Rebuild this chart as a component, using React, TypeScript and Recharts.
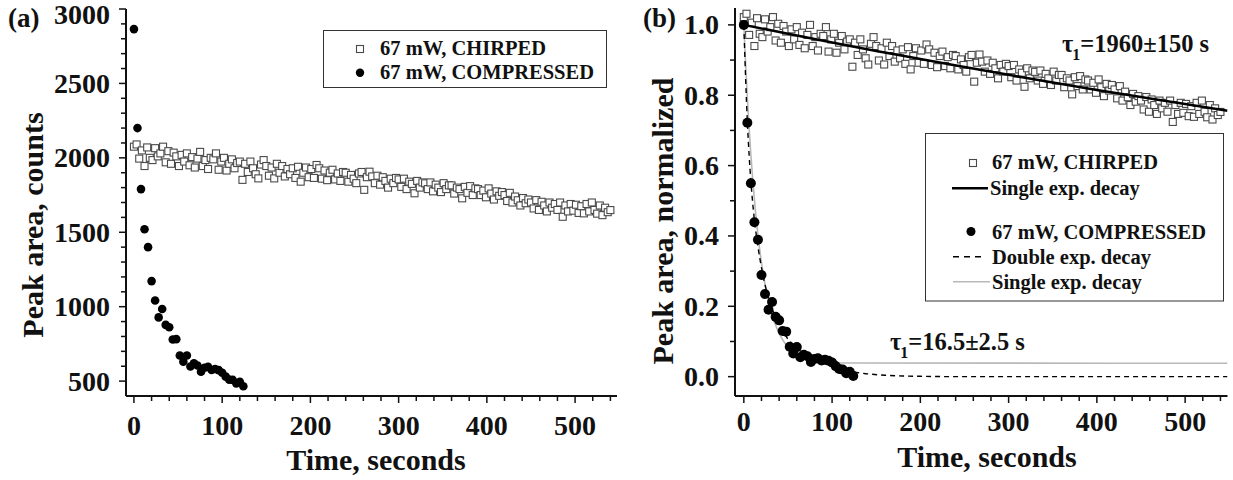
import React from 'react';
import { ComposedChart, Scatter, Line, XAxis, YAxis } from 'recharts';

const SERIF = '"Liberation Serif", "Times New Roman", Times, serif';
const INK = '#111';

// ---------- Panel (a): raw peak areas ----------
const chirpedTime = [
  0, 3, 6, 9, 12, 15, 18, 21, 24, 27,
  30, 33, 36, 39, 42, 45, 48, 51, 54, 57,
  60, 63, 66, 69, 72, 75, 78, 81, 84, 87,
  90, 93, 96, 99, 102, 105, 108, 111, 114, 117,
  120, 123, 126, 129, 132, 135, 138, 141, 144, 147,
  150, 153, 156, 159, 162, 165, 168, 171, 174, 177,
  180, 183, 186, 189, 192, 195, 198, 201, 204, 207,
  210, 213, 216, 219, 222, 225, 228, 231, 234, 237,
  240, 243, 246, 249, 252, 255, 258, 261, 264, 267,
  270, 273, 276, 279, 282, 285, 288, 291, 294, 297,
  300, 303, 306, 309, 312, 315, 318, 321, 324, 327,
  330, 333, 336, 339, 342, 345, 348, 351, 354, 357,
  360, 363, 366, 369, 372, 375, 378, 381, 384, 387,
  390, 393, 396, 399, 402, 405, 408, 411, 414, 417,
  420, 423, 426, 429, 432, 435, 438, 441, 444, 447,
  450, 453, 456, 459, 462, 465, 468, 471, 474, 477,
  480, 483, 486, 489, 492, 495, 498, 501, 504, 507,
  510, 513, 516, 519, 522, 525, 528, 531, 534, 537, 540,
];
const chirpedCounts = [
  2075, 2090, 1995, 2050, 1945, 2070, 2000, 1985, 2065, 2010,
  2030, 2075, 1970, 2045, 1960, 2035, 2010, 1945, 2020, 1975,
  2030, 1950, 2005, 1935, 1995, 2040, 1945, 1985, 1925, 2000,
  1990, 2030, 1920, 1975, 2000, 1915, 1960, 1990, 1930, 1965,
  1975, 1852, 1960, 1905, 1975, 1930, 1890, 1862, 1955, 1985,
  1945, 1880, 1935, 1862, 1960, 1900, 1945, 1875, 1925, 1890,
  1930, 1865, 1940, 1840, 1900, 1935, 1870, 1925, 1865, 1952,
  1930, 1860, 1915, 1850, 1900, 1920, 1855, 1895, 1845, 1905,
  1900, 1840, 1885, 1860, 1830, 1895, 1905, 1785, 1870, 1907,
  1875, 1830, 1880, 1820, 1870, 1845, 1800, 1860, 1830, 1865,
  1855, 1805, 1860, 1790, 1840, 1825, 1762, 1845, 1800, 1835,
  1829, 1790, 1835, 1775, 1820, 1800, 1770, 1830, 1790, 1815,
  1815, 1760, 1800, 1790, 1728, 1805, 1765, 1810, 1750, 1795,
  1790, 1750, 1780, 1735, 1795, 1760, 1720, 1775, 1745, 1770,
  1750, 1710, 1765, 1700, 1740, 1715, 1680, 1730, 1695, 1720,
  1700, 1660, 1716, 1650, 1705, 1680, 1640, 1700, 1665, 1690,
  1650, 1700, 1604, 1680, 1640, 1690, 1645, 1685, 1630, 1675,
  1627, 1690, 1640, 1700, 1650, 1625, 1680, 1615, 1665, 1635, 1649,
];
const compressedTime = [
  0, 4, 8, 12, 16, 20, 24, 28, 32, 36, 40, 44, 48, 52, 56, 60,
  64, 68, 72, 76, 80, 84, 88, 92, 96, 100, 104, 108, 112, 116, 120, 124,
];
const compressedCounts = [
  2865, 2200, 1790, 1520, 1400, 1172, 1042, 928, 985, 878, 862, 780, 782, 672, 630, 672,
  598, 620, 605, 563, 590, 596, 575, 581, 574, 556, 530, 510, 508, 485, 495, 466,
];

// ---------- Panel (b): normalized peak areas ----------
// normalization used in the figure: (area - baseline) / (initial - baseline)
const NORM_BASELINE = 460;
const NORM_SPAN = 1580;
const compressedNorm = [
  1.0, 0.722, 0.55, 0.439, 0.389, 0.289, 0.235, 0.19, 0.212, 0.17, 0.16, 0.13, 0.128, 0.085, 0.066, 0.084,
  0.055, 0.062, 0.058, 0.042, 0.05, 0.052, 0.046, 0.048, 0.045, 0.04, 0.03, 0.022, 0.02, 0.01, 0.014, 0.002,
];
const chirpedFitTime = [0, 50, 100, 150, 200, 250, 300, 350, 400, 450, 500, 548];
const chirpedFitValue = [1.0, 0.975, 0.95, 0.926, 0.903, 0.88, 0.858, 0.836, 0.815, 0.795, 0.775, 0.756];
const doubleFitTime = [
  0, 2, 4, 6, 8, 10, 12, 14, 16, 18, 20, 23, 26, 30, 35, 40, 45, 50, 55, 60,
  70, 80, 90, 100, 110, 120, 130, 140, 160, 180, 200, 250, 300, 400, 548,
];
const doubleFitValue = [
  1.0, 0.85, 0.725, 0.63, 0.555, 0.495, 0.445, 0.405, 0.37, 0.338, 0.31, 0.272, 0.242, 0.208, 0.174, 0.147, 0.125, 0.107, 0.093, 0.081,
  0.063, 0.049, 0.038, 0.029, 0.022, 0.016, 0.011, 0.008, 0.004, 0.002, 0.001, 0, 0, 0, 0,
];
const singleFitTime = [0, 2, 4, 6, 8, 10, 13, 16, 20, 25, 30, 35, 40, 45, 50, 55, 60, 70, 80, 90, 100, 120, 548];
const singleFitValue = [
  1.0, 0.89, 0.793, 0.707, 0.63, 0.563, 0.475, 0.403, 0.324, 0.249, 0.194, 0.153, 0.123, 0.101, 0.0845, 0.0723,
  0.0634, 0.0519, 0.0456, 0.0421, 0.0403, 0.0387, 0.038,
];

// ---------- ticks ----------
const timeTicks = [0, 20, 40, 60, 80, 100, 120, 140, 160, 180, 200, 220, 240, 260, 280, 300, 320, 340, 360, 380, 400, 420, 440, 460, 480, 500, 520, 540];
const countTicks = [500, 600, 700, 800, 900, 1000, 1100, 1200, 1300, 1400, 1500, 1600, 1700, 1800, 1900, 2000, 2100, 2200, 2300, 2400, 2500, 2600, 2700, 2800, 2900, 3000];
const normTicks = [0, 0.1, 0.2, 0.3, 0.4, 0.5, 0.6, 0.7, 0.8, 0.9, 1.0];

// ---------- rows ----------
const chirpedA = chirpedTime.map((t, i) => ({ t, v: chirpedCounts[i] }));
const compressedA = compressedTime.map((t, i) => ({ t, v: compressedCounts[i] }));
const chirpedB = chirpedTime.map((t, i) => ({ t, v: (chirpedCounts[i] - NORM_BASELINE) / NORM_SPAN }));
const compressedB = compressedTime.map((t, i) => ({ t, v: compressedNorm[i] }));
const chirpedFitB = chirpedFitTime.map((t, i) => ({ t, v: chirpedFitValue[i] }));
const doubleFitB = doubleFitTime.map((t, i) => ({ t, v: doubleFitValue[i] }));
const singleFitB = singleFitTime.map((t, i) => ({ t, v: singleFitValue[i] }));

// ---------- tick renderers ----------
const isMult = (v: number, m: number) => Math.abs(v / m - Math.round(v / m)) < 1e-6;

const bottomTick = (labelOffset: number) => (p: any) => {
  const { x, y, payload } = p;
  const v = payload.value;
  const major = isMult(v, 100);
  return (
    <g>
      <line x1={x} x2={x} y1={y} y2={y + (major ? 7 : 5)} stroke={INK} strokeWidth={1.5} />
      {major && (
        <text x={x} y={y + labelOffset} textAnchor="middle" fontFamily={SERIF} fontWeight="bold" fontSize={28} fill={INK}>
          {v}
        </text>
      )}
    </g>
  );
};

const topTick = (p: any) => {
  const { x, y, payload } = p;
  const major = isMult(payload.value, 100);
  return <line x1={x} x2={x} y1={y} y2={y + (major ? 7 : 5)} stroke={INK} strokeWidth={1.5} />;
};

const leftTick = (majorStep: number, fmt: (v: number) => string) => (p: any) => {
  const { x, y, payload } = p;
  const v = payload.value;
  const major = isMult(v, majorStep);
  return (
    <g>
      <line x1={x} x2={x - (major ? 7 : 5)} y1={y} y2={y} stroke={INK} strokeWidth={1.5} />
      {major && (
        <text x={x - 16} y={Math.max(y + 9.5, 23.5)} textAnchor="end" fontFamily={SERIF} fontWeight="bold" fontSize={28} fill={INK}>
          {fmt(v)}
        </text>
      )}
    </g>
  );
};

const rightTick = (majorStep: number) => (p: any) => {
  const { x, y, payload } = p;
  const major = isMult(payload.value, majorStep);
  return <line x1={x} x2={x - (major ? 7 : 5)} y1={y} y2={y} stroke={INK} strokeWidth={1.5} />;
};

// ---------- marks ----------
const SquareMark = (p: any) => (
  <rect x={p.cx - 3.5} y={p.cy - 3.5} width={7} height={7} fill="#fff" stroke="#4a4a4a" strokeWidth={1.1} />
);
const DotA = (p: any) => <circle cx={p.cx} cy={p.cy} r={4.3} fill="#000" />;
const DotB = (p: any) => <circle cx={p.cx} cy={p.cy} r={5} fill="#000" />;

const axisLine = { stroke: INK, strokeWidth: 2 };

const X_DOMAIN_A: [number, number] = [-9, 547.5];
const Y_DOMAIN_A: [number, number] = [400, 3000];
const X_DOMAIN_B: [number, number] = [-10, 548];
const Y_DOMAIN_B: [number, number] = [-0.055, 1.048];

function PanelA() {
  return (
    <ComposedChart width={620} height={480} margin={{ top: 9, right: 3, bottom: 0, left: 0 }}>
      <XAxis xAxisId={0} dataKey="t" type="number" domain={X_DOMAIN_A} allowDataOverflow ticks={timeTicks} interval={0}
        height={84} tickSize={0} tickMargin={0} tickLine={false} axisLine={axisLine} tick={bottomTick(39)} />
      <XAxis xAxisId="top" orientation="top" type="number" domain={X_DOMAIN_A} allowDataOverflow ticks={timeTicks} interval={0}
        height={0} tickSize={0} tickMargin={0} tickLine={false} axisLine={axisLine} tick={topTick} />
      <YAxis yAxisId={0} dataKey="v" type="number" domain={Y_DOMAIN_A} allowDataOverflow ticks={countTicks} interval={0}
        width={126} tickSize={0} tickMargin={0} tickLine={false} axisLine={axisLine} tick={leftTick(500, (v) => String(v))} />
      <YAxis yAxisId="right" orientation="right" type="number" domain={Y_DOMAIN_A} allowDataOverflow ticks={countTicks} interval={0}
        width={0} tickSize={0} tickMargin={0} tickLine={false} axisLine={axisLine} tick={rightTick(500)} />
      <Scatter data={chirpedA} dataKey="v" shape={SquareMark} isAnimationActive={false} />
      <Scatter data={compressedA} dataKey="v" shape={DotA} isAnimationActive={false} />
    </ComposedChart>
  );
}

const B_SIZE = { width: 613, height: 480 };
const B_MARGIN = { top: 8, right: 5.5, bottom: 0, left: 0 };

// base layer of panel (b): frame, ticks and the chirped squares
function PanelBBase() {
  return (
    <ComposedChart {...B_SIZE} margin={B_MARGIN}>
      <XAxis xAxisId={0} dataKey="t" type="number" domain={X_DOMAIN_B} allowDataOverflow ticks={timeTicks} interval={0}
        height={84} tickSize={0} tickMargin={0} tickLine={false} axisLine={axisLine} tick={bottomTick(35)} />
      <XAxis xAxisId="top" orientation="top" type="number" domain={X_DOMAIN_B} allowDataOverflow ticks={timeTicks} interval={0}
        height={0} tickSize={0} tickMargin={0} tickLine={false} axisLine={axisLine} tick={topTick} />
      <YAxis yAxisId={0} dataKey="v" type="number" domain={Y_DOMAIN_B} allowDataOverflow ticks={normTicks} interval={0}
        width={115} tickSize={0} tickMargin={0} tickLine={false} axisLine={axisLine} tick={leftTick(0.2, (v) => v.toFixed(1))} />
      <YAxis yAxisId="right" orientation="right" type="number" domain={Y_DOMAIN_B} allowDataOverflow ticks={normTicks} interval={0}
        width={0} tickSize={0} tickMargin={0} tickLine={false} axisLine={axisLine} tick={rightTick(0.2)} />
      <Scatter data={chirpedB} dataKey="v" shape={SquareMark} isAnimationActive={false} />
    </ComposedChart>
  );
}

// top layer of panel (b): fitted curves over the squares, then the compressed points
function PanelBTop() {
  return (
    <ComposedChart {...B_SIZE} margin={B_MARGIN}>
      <XAxis xAxisId={0} dataKey="t" type="number" domain={X_DOMAIN_B} allowDataOverflow ticks={timeTicks}
        height={84} tick={false} tickLine={false} axisLine={false} />
      <YAxis yAxisId={0} dataKey="v" type="number" domain={Y_DOMAIN_B} allowDataOverflow ticks={normTicks}
        width={115} tick={false} tickLine={false} axisLine={false} />
      <Line data={chirpedFitB} dataKey="v" type="monotone" stroke="#000" strokeWidth={2.5} dot={false} activeDot={false} isAnimationActive={false} />
      <Line data={singleFitB} dataKey="v" type="monotone" stroke="#b8b8b8" strokeWidth={1.6} dot={false} activeDot={false} isAnimationActive={false} />
      <Line data={doubleFitB} dataKey="v" type="monotone" stroke="#000" strokeWidth={1.4} strokeDasharray="5 4" dot={false} activeDot={false} isAnimationActive={false} />
      <Scatter data={compressedB} dataKey="v" shape={DotB} isAnimationActive={false} />
    </ComposedChart>
  );
}

const boldText = { fontFamily: SERIF, fontWeight: 'bold' as const, fill: INK };

function Overlay() {
  return (
    <svg width={1233} height={480} style={{ position: 'absolute', left: 0, top: 0, pointerEvents: 'none' }}>
      {/* panel labels */}
      <text x={8} y={27} fontSize={27} {...boldText}>(a)</text>
      <text x={643} y={27} fontSize={27} {...boldText}>(b)</text>

      {/* axis titles */}
      <text x={376} y={470} fontSize={30} textAnchor="middle" {...boldText}>Time, seconds</text>
      <text x={987} y={467} fontSize={30} textAnchor="middle" {...boldText}>Time, seconds</text>
      <text x={43} y={225} fontSize={30} textAnchor="middle" transform="rotate(-90 43 225)" {...boldText}>Peak area, counts</text>
      <text x={673} y={221} fontSize={30} textAnchor="middle" transform="rotate(-90 673 221)" {...boldText}>Peak area, normalized</text>

      {/* legend (a) */}
      <rect x={323.5} y={30.5} width={283} height={57} fill="#fff" stroke="#333" strokeWidth={1} />
      <rect x={356.5} y={45.5} width={7} height={7} fill="#fff" stroke="#4a4a4a" strokeWidth={1.1} />
      <text x={380} y={55} fontSize={20.5} {...boldText}>67 mW, CHIRPED</text>
      <circle cx={360} cy={72.7} r={4.2} fill="#000" />
      <text x={380} y={79} fontSize={20.5} {...boldText}>67 mW, COMPRESSED</text>

      {/* legend (b) */}
      <rect x={925.5} y={133.5} width={298} height={167.5} fill="#fff" stroke="#333" strokeWidth={1} />
      <rect x={969.5} y={159.5} width={7} height={7} fill="#fff" stroke="#4a4a4a" strokeWidth={1.1} />
      <text x={992} y={168.5} fontSize={20.5} {...boldText}>67 mW, CHIRPED</text>
      <line x1={952} x2={988} y1={188.3} y2={188.3} stroke="#000" strokeWidth={2.5} />
      <text x={990} y={195} fontSize={20.5} {...boldText}>Single exp. decay</text>
      <circle cx={971} cy={231.5} r={4.5} fill="#000" />
      <text x={992} y={238.5} fontSize={20.5} {...boldText}>67 mW, COMPRESSED</text>
      <line x1={953} x2={984} y1={256.7} y2={256.7} stroke="#000" strokeWidth={1.4} strokeDasharray="6 5" />
      <text x={992} y={263.5} fontSize={20.5} {...boldText}>Double exp. decay</text>
      <line x1={953} x2={990} y1={281.7} y2={281.7} stroke="#b8b8b8" strokeWidth={1.6} />
      <text x={992} y={288.5} fontSize={20.5} {...boldText}>Single exp. decay</text>

      {/* fit annotations */}
      <text x={1062} y={52} fontSize={24.5} {...boldText}>
        τ<tspan fontSize={16} dy={8} dx={-1}>1</tspan><tspan dy={-8}>=1960±150 s</tspan>
      </text>
      <text x={890} y={349.5} fontSize={24.5} {...boldText}>
        τ<tspan fontSize={16} dy={8} dx={-1}>1</tspan><tspan dy={-8}>=16.5±2.5 s</tspan>
      </text>
    </svg>
  );
}

export default function App() {
  return (
    <div style={{ position: 'absolute', left: 0, top: 0, width: 1233, height: 480, background: '#fff', overflow: 'hidden' }}>
      <div style={{ position: 'absolute', left: 0, top: 0 }}>
        <PanelA />
      </div>
      <div style={{ position: 'absolute', left: 620, top: 0 }}>
        <PanelBBase />
      </div>
      <div style={{ position: 'absolute', left: 620, top: 0 }}>
        <PanelBTop />
      </div>
      <Overlay />
    </div>
  );
}
